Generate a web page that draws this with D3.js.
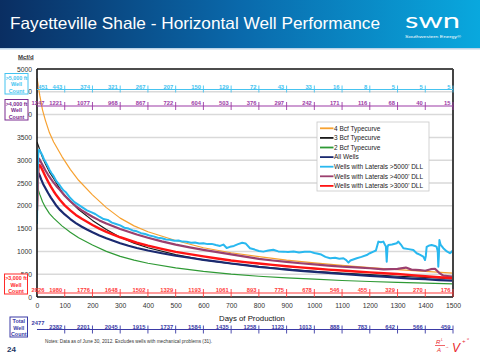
<!DOCTYPE html>
<html><head><meta charset="utf-8">
<script src="https://cdn.jsdelivr.net/npm/d3@7"></script>
<style>body{margin:0;background:#fff}svg{display:block;font-family:"Liberation Sans",Arial,sans-serif}</style>
</head><body><svg id="c" width="480" height="358"></svg>
<script>
const xTicks = [0,100,200,300,400,500,600,700,800,900,1000,1100,1200,1300,1400,1500];
const yTicks = [0,500,1000,1500,2000,2500,3000,3500,4000,4500,5000];
const count5000 = [451,443,374,321,267,207,150,129,72,43,33,16,8,5,5,5];
const count4000 = [1247,1221,1077,968,867,722,604,503,376,297,242,171,116,68,40,15];
const count3000 = [2026,1980,1776,1648,1502,1329,1193,1061,893,775,678,546,455,329,270,176];
const countTotal = [2477,2382,2201,2045,1915,1737,1584,1435,1258,1123,1013,888,783,642,566,459];

const tcDays = [0,10,20,30,45,60,90,120,150,200,250,300,350,400,500,600,700,800,900,1000,1100,1200,1300,1400,1500];
const tc4Bcf = [4800,4420,4100,3880,3600,3400,3080,2800,2560,2240,1960,1730,1560,1430,1240,1080,970,885,810,750,695,645,600,560,525];
const tc3Bcf = [3400,3230,3060,2920,2740,2600,2300,2100,1920,1680,1480,1310,1180,1080,930,815,730,665,610,565,525,490,455,430,400];
const tc2Bcf = [2430,2250,2090,1970,1830,1730,1560,1420,1300,1140,1000,890,810,740,640,560,500,455,420,390,362,340,320,305,290];

const wellDays = [0,3,6,10,15,22,30,40,50,60,70,83,100,120,140,160,180,200,225,250,275,300,330,360,400,450,500,550,600,650,700,750,800,850,900,950,1000,1050,1100,1150,1200,1250,1300,1350,1400,1450,1500];
const allWells = [2350,2650,2712,2660,2580,2480,2390,2280,2180,2090,2000,1910,1810,1710,1620,1545,1480,1420,1350,1290,1235,1180,1125,1075,1020,960,905,860,815,775,735,700,660,630,600,575,550,528,505,485,462,445,425,405,390,372,357];
const lat3000 = [1900,2600,2880,2890,2840,2750,2650,2530,2420,2320,2230,2127,2010,1900,1800,1720,1650,1580,1500,1430,1370,1310,1250,1190,1125,1055,990,940,890,845,800,765,735,705,675,650,625,600,580,560,540,522,505,480,455,432,410];

const lat4000Days = [0,3,6,10,15,22,30,40,50,60,70,83,100,120,140,160,180,200,225,250,275,300,330,360,400,450,500,550,600,650,700,750,800,850,900,950,1000,1050,1100,1150,1200,1250,1300,1330,1350,1380,1400,1420,1435,1450,1465,1480,1500];
const lat4000 = [2100,2850,3040,3010,2950,2870,2780,2680,2590,2510,2430,2346,2220,2100,1995,1905,1830,1760,1680,1610,1550,1490,1430,1370,1300,1220,1150,1090,1035,985,935,885,835,800,770,740,715,690,665,650,630,605,615,645,600,590,575,610,620,530,470,460,446];

const lat5000Days = [0,2,4,6,8,11,15,20,25,30,38,45,52,60,70,83,95,105,120,135,150,165,180,195,210,225,240,255,270,285,300,315,330,345,360,375,390,405,420,435,450,465,480,495,510,525,540,555,570,585,600,615,630,645,660,672,684,696,710,725,740,752,768,785,800,816,834,852,870,888,905,925,945,965,984,1000,1009,1025,1040,1057,1075,1090,1105,1115,1123,1130,1153,1170,1189,1200,1213,1222,1231,1240,1249,1255,1258,1261,1264,1267,1280,1297,1303,1312,1321,1340,1357,1369,1380,1393,1399,1402,1405,1415,1423,1435,1441,1445,1447,1449,1451,1455,1465,1478,1489,1495,1500];
const lat5000 = [1600,2650,3100,3220,3230,3200,3160,3100,3020,2970,2880,2790,2720,2650,2540,2440,2340,2290,2170,2080,2020,1960,1900,1860,1820,1760,1710,1690,1630,1600,1570,1520,1500,1460,1440,1400,1380,1350,1330,1300,1290,1260,1255,1235,1240,1215,1210,1190,1195,1175,1180,1160,1165,1140,1120,1150,1075,1100,1120,1160,1190,1175,1070,1040,1010,995,1020,1035,1000,995,985,1000,975,990,995,965,955,930,880,850,860,840,850,810,755,800,850,880,920,960,995,1020,1215,1200,1215,1140,1110,775,1100,1140,1150,1180,1215,1150,1070,1050,1030,960,930,885,810,900,1100,1130,1140,1120,1100,1000,665,900,1250,1150,1070,1000,960,990,1030];

const legendNames = ["4 Bcf Typecurve","3 Bcf Typecurve","2 Bcf Typecurve","All Wells","Wells with Laterals >5000' DLL","Wells with Laterals >4000' DLL","Wells with Laterals >3000' DLL"];
const legendColors = ["#f7a130","#1a1a1a","#2f9a35","#1b2a70","#29b8ef","#9b3f6e","#ff1414"];

const svg = d3.select("#c");
const x = d3.scaleLinear().domain([0,1500]).range([37,453]);
const y = d3.scaleLinear().domain([0,5000]).range([297,69]);

// header
const defs = svg.append("defs");
const gr = defs.append("linearGradient").attr("id","hdr").attr("x1","0").attr("x2","1").attr("y1","0").attr("y2","0");
gr.append("stop").attr("offset","0").attr("stop-color","#0a2e62");
gr.append("stop").attr("offset","0.5").attr("stop-color","#0a69ab");
gr.append("stop").attr("offset","1").attr("stop-color","#09a8de");
defs.append("clipPath").attr("id","plot").append("rect").attr("x",37).attr("y",69).attr("width",416).attr("height",228);
svg.append("rect").attr("width",480).attr("height",48).attr("fill","url(#hdr)");
svg.append("rect").attr("y",48).attr("width",480).attr("height",1.5).attr("fill","#bcd4e8");
svg.append("text").attr("x",10).attr("y",29).attr("fill","#fff").attr("font-size",16.5)
  .attr("textLength",370).attr("lengthAdjust","spacingAndGlyphs").text("Fayetteville Shale - Horizontal Well Performance");
svg.append("text").attr("x",405).attr("y",28).attr("fill","#fff").attr("font-size",22).attr("font-family","Lato, 'Open Sans', sans-serif")
  .attr("textLength",55).attr("lengthAdjust","spacingAndGlyphs").text("swn");
svg.append("text").attr("x",405).attr("y",37.5).attr("fill","#fff").attr("font-size",4.4)
  .attr("textLength",56).attr("lengthAdjust","spacingAndGlyphs").text("Southwestern Energy\u00AE");

// grid
svg.append("g").selectAll("line").data(yTicks.filter(v=>v>0&&v<5000)).join("line")
  .attr("x1",x(0)).attr("x2",x(1500)).attr("y1",d=>y(d)).attr("y2",d=>y(d))
  .attr("stroke","#d9d9d9").attr("stroke-width",1.5);

// axes labels
const ya = svg.append("g").attr("transform",`translate(${x(0)},0)`)
  .call(d3.axisLeft(y).tickValues(yTicks).tickFormat(d3.format("d")).tickSize(0).tickPadding(5));
ya.select(".domain").remove();
ya.selectAll("text").attr("font-size",6.8).attr("fill","#333").attr("font-family","Liberation Sans, Arial, sans-serif");
const xa = svg.append("g").attr("transform",`translate(0,${y(0)})`)
  .call(d3.axisBottom(x).tickValues(xTicks).tickFormat(d3.format("d")).tickSize(0).tickPadding(6));
xa.select(".domain").remove();
xa.selectAll("text").attr("font-size",6.8).attr("fill","#333").attr("font-family","Liberation Sans, Arial, sans-serif");

// series
const line = d3.line().x(d=>x(d[0])).y(d=>y(d[1]));
const plot = svg.append("g").attr("clip-path","url(#plot)");
function draw(days, vals, color, w){
  plot.append("path").datum(days.map((d,i)=>[d,vals[i]])).attr("d",line)
    .attr("fill","none").attr("stroke",color).attr("stroke-width",w).attr("stroke-linejoin","round");
}
draw(tcDays, tc4Bcf, legendColors[0], 1.2);
draw(tcDays, tc2Bcf, legendColors[2], 1.2);
draw(tcDays, tc3Bcf, legendColors[1], 1.2);
draw(wellDays, allWells, legendColors[3], 2.2);
draw(lat4000Days, lat4000, legendColors[5], 2.2);
draw(wellDays, lat3000, legendColors[6], 2.4);
draw(lat5000Days, lat5000, legendColors[4], 2);

// frame
svg.append("line").attr("x1",x(0)).attr("x2",x(1500)).attr("y1",y(5000)).attr("y2",y(5000)).attr("stroke","#111").attr("stroke-width",1.6);
svg.append("line").attr("x1",x(1500)).attr("x2",x(1500)).attr("y1",y(5000)).attr("y2",y(0)).attr("stroke","#444").attr("stroke-width",2);
svg.append("line").attr("x1",x(0)).attr("x2",x(0)).attr("y1",y(5000)).attr("y2",y(0)).attr("stroke","#111").attr("stroke-width",1.6);
svg.append("line").attr("x1",x(0)).attr("x2",x(1500)).attr("y1",y(0)).attr("y2",y(0)).attr("stroke","#111").attr("stroke-width",1.6);

// count rows
function countRow(vals, yPos, color, firstX, tickDown){
  const g = svg.append("g");
  g.append("line").attr("x1",x(0)).attr("x2",x(1500)).attr("y1",yPos).attr("y2",yPos).attr("stroke",color).attr("stroke-width",1.2);
  xTicks.forEach((d,i)=>{
    if(i>0) g.append("line").attr("x1",x(d)).attr("x2",x(d)).attr("y1",yPos-4).attr("y2",yPos+tickDown).attr("stroke",color).attr("stroke-width",0.9);
    if(firstX!==null || i>0)
    g.append("text").attr("x", i===0 ? firstX : x(d)-2.5).attr("y",yPos-0.6)
      .attr("text-anchor", i===0 ? "middle" : "end").attr("font-size",5.8).attr("font-weight","bold")
      .attr("fill",color).text(vals[i]);
  });
}
countRow(count5000, 89.5, "#45c3f0", x(0)+6, 3);
countRow(count4000, 106, "#9c3aa6", x(0)+1, 4);
countRow(count3000, 293, "#ff3b3b", x(0)+1, 4);
countRow(countTotal, 329.5, "#3b3ba6", null, 4);
svg.append("text").attr("x",x(0)+1).attr("y",324.5).attr("text-anchor","middle").attr("font-size",5.8)
  .attr("font-weight","bold").attr("fill","#3b3ba6").text(countTotal[0]);

// boxes
function box(x0,y0,w,h,color,lines){
  svg.append("rect").attr("x",x0).attr("y",y0).attr("width",w).attr("height",h).attr("fill","#fff").attr("stroke",color).attr("stroke-width",1);
  lines.forEach((t,i)=>svg.append("text").attr("x",x0+w/2).attr("y",y0+6.3+i*6.4).attr("text-anchor","middle")
    .attr("font-size",5.4).attr("font-weight","bold").attr("fill",color).text(t));
}
box(5,73.5,23,20.5,"#45c3f0",[">5,000 ft","Well","Count"]);
box(5,99.5,23,20.5,"#7a2a90",[">4,000 ft","Well","Count"]);
box(4.5,274,23,20,"#ff2a2a",[">3,000 ft","Well","Count"]);
box(10,317,17.5,20,"#3b3ba6",["Total","Well","Count"]);

svg.append("text").attr("x",18).attr("y",58.5).attr("font-size",6).attr("font-weight","bold").attr("fill","#333")
  .attr("text-decoration","underline").text("Mcf/d");

// legend
const lg = svg.append("g");
lg.append("rect").attr("x",317).attr("y",122).attr("width",112).attr("height",69).attr("fill","#fff").attr("stroke","#c8c8c8").attr("stroke-width",0.8);
legendNames.forEach((n,i)=>{
  const yy = 128.3 + i*9.6;
  lg.append("line").attr("x1",320).attr("x2",333.5).attr("y1",yy).attr("y2",yy).attr("stroke",legendColors[i]).attr("stroke-width",1.8);
  lg.append("text").attr("x",334).attr("y",yy+2.2).attr("font-size",6.5).attr("fill","#222").text(n);
});

// footer
svg.append("text").attr("x",252).attr("y",321).attr("text-anchor","middle").attr("font-size",7.8).attr("fill","#111").text("Days of Production");
svg.append("text").attr("x",45).attr("y",343).attr("font-size",4.7).attr("fill","#333")
  .attr("textLength",167).attr("lengthAdjust","spacingAndGlyphs")
  .text("Notes:  Data as of June 30, 2012. Excludes wells with mechanical problems (31).");
svg.append("text").attr("x",7).attr("y",352).attr("font-size",8).attr("font-weight","bold").attr("fill","#1f3864").text("24");
const lo = svg.append("g").attr("fill","#e8242a").attr("font-style","italic");
lo.append("text").attr("x",436).attr("y",344).attr("font-size",6).text("R");
lo.append("text").attr("x",441).attr("y",341).attr("font-size",3.5).text("L");
lo.append("line").attr("x1",435).attr("x2",445).attr("y1",345.5).attr("y2",345.5).attr("stroke","#e8242a").attr("stroke-width",0.7);
lo.append("text").attr("x",437).attr("y",352).attr("font-size",6).text("A");
lo.append("text").attr("x",445).attr("y",348).attr("font-size",4).text("\u2192");
lo.append("text").attr("x",452).attr("y",352).attr("font-size",12).text("V");
lo.append("text").attr("x",462).attr("y",343).attr("font-size",6).text("+");
lo.append("text").attr("x",467).attr("y",340).attr("font-size",3.5).text("o");
</script></body></html>
